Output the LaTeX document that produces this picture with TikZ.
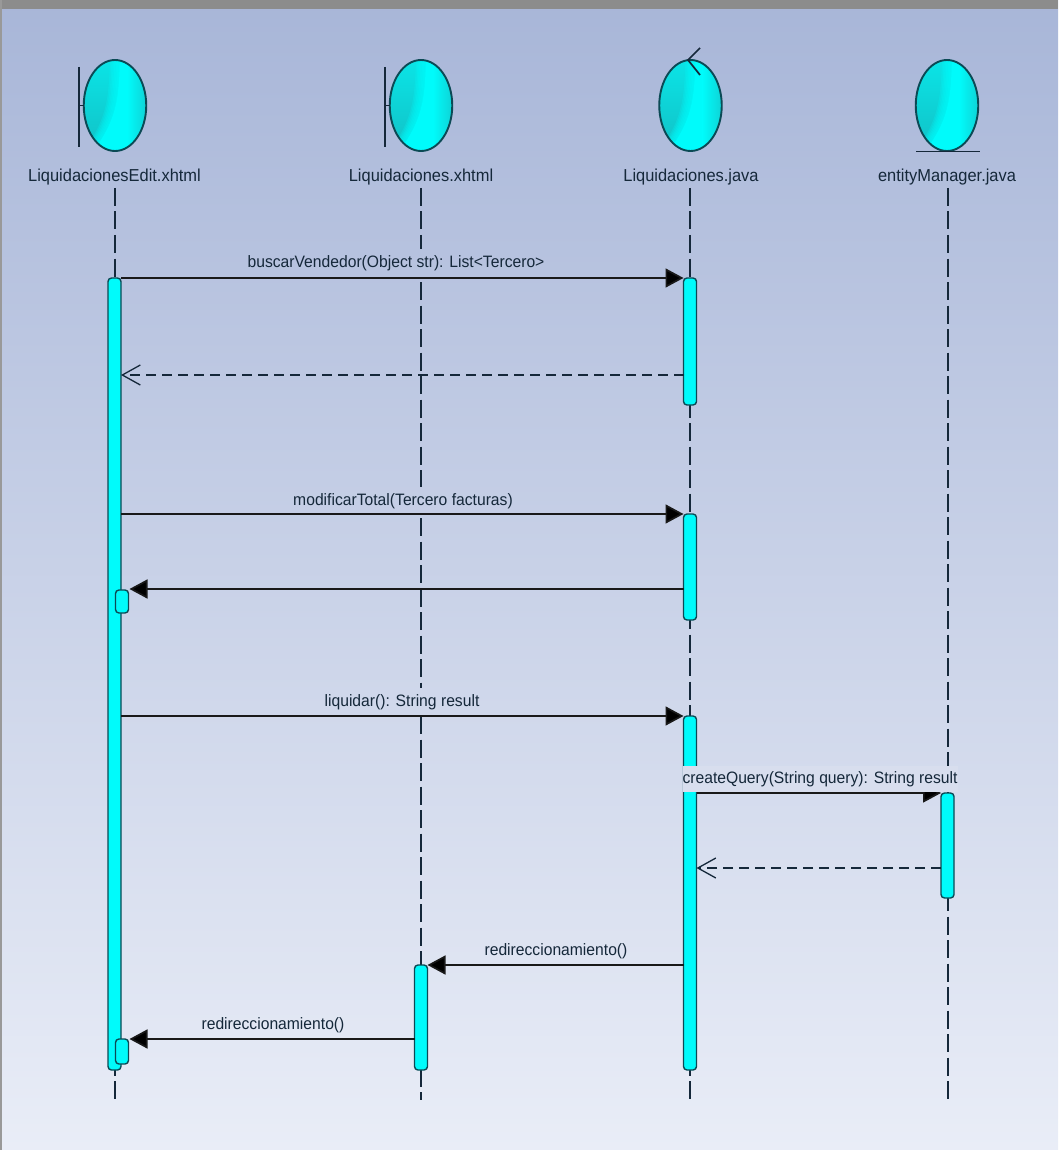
\documentclass[tikz,border=0pt]{standalone}
\usepackage{fontspec}
\setmainfont{Liberation Sans}[FakeStretch=0.95]
\usetikzlibrary{arrows.meta,shapes.geometric,calc}
\definecolor{inkdark}{HTML}{15283A}
\definecolor{barline}{HTML}{0B4A55}
\definecolor{cyanfill}{HTML}{00FBFB}
\definecolor{tealdark}{HTML}{12BFC4}
\definecolor{tealright}{HTML}{10CFD2}
\definecolor{tealmid}{HTML}{0AE6E8}
\definecolor{bgtop}{HTML}{A8B6D8}
\definecolor{bgbottom}{HTML}{E9EDF7}
\definecolor{labelbg}{HTML}{D8DEEE}
\newcommand{\hp}[2]{($(path picture bounding box.center)+(#1,#2)$)}
\tikzset{
  lifehead/.style={ellipse,draw=barline,line width=1.9pt,minimum width=62.5pt,minimum height=91pt,inner sep=0pt,outer sep=0pt,
    path picture={
      \shade[top color=tealmid,bottom color=tealdark] \hp{-33}{-50} rectangle \hp{14}{50};
      \foreach \off in {10,8.5,7,5.5,4,2.5,1}{
        \fill[cyanfill,opacity=0.22]
          \hp{5-\off}{-50} .. controls \hp{4-\off}{-5} and \hp{2-\off}{15} .. \hp{-25-\off}{50}
          -- \hp{14}{50} -- \hp{14}{-50} -- cycle;
      }
      \fill[cyanfill]
          \hp{5}{-50} .. controls \hp{4}{-5} and \hp{2}{15} .. \hp{-25}{50}
          -- \hp{14}{50} -- \hp{14}{-50} -- cycle;
      \shade[left color=cyanfill,right color=tealright] \hp{12}{-50} rectangle \hp{33}{50};
    }},
  headname/.style={text=inkdark,font=\fontsize{17.3}{19}\selectfont,inner sep=0pt,outer sep=0pt,anchor=center},
  msglabel/.style={text=inkdark,font=\fontsize{16.5}{19}\selectfont,inner sep=0pt,outer sep=0pt,anchor=center,minimum height=28pt},
  lifeline/.style={draw=inkdark,line width=1.3pt,dash pattern=on 18pt off 5.5pt},
  bar/.style={draw=barline,fill=cyanfill,line width=1.4pt,rounded corners=3.5pt,minimum width=13pt,inner sep=0pt,outer sep=0pt,anchor=north},
  callmsg/.style={draw=black!90,line width=1.7pt,-{Triangle[length=18pt,width=19pt,fill=black]}},
  retmsg/.style={draw=inkdark,line width=1.4pt,dash pattern=on 10pt off 6pt,-{Straight Barb[length=18pt,width=20pt,line width=1.3pt]}},
  icon/.style={draw=inkdark,line width=1.7pt}
}
\begin{document}
\begin{tikzpicture}[x=1pt,y=-1pt]
\useasboundingbox (0,0) rectangle (1058,1150);
% window background
\shade[top color=bgtop,bottom color=bgbottom] (0,0) rectangle (1058,1150);
\fill[color=black!45] (0,0) rectangle (1058,9);
\fill[color=black!40] (0,0) rectangle (2,1150);

% column coordinates
\coordinate (endA) at (115,1100);
\coordinate (endB) at (421,1100);
\coordinate (endC) at (690,1100);
\coordinate (endD) at (948,1100);

% stereotype decorations
\coordinate (bndA) at (79,67);
\coordinate (bndAb) at (79,147);
\coordinate (bndB) at (385,67);
\coordinate (bndBb) at (385,147);
\draw[icon] (bndA) -- (bndAb);
\draw[icon] (bndB) -- (bndBb);

% heads
\node[lifehead] (headA) at (115,105.5) {};
\node[lifehead] (headB) at (421,105.5) {};
\node[lifehead] (headC) at (690.5,105.5) {};
\node[lifehead] (headD) at (947,105.5) {};

\draw[icon] (headA.west) -- (bndA |- headA.west);
\draw[icon] (headB.west) -- (bndB |- headB.west);
\coordinate (ctlTip) at (688,60);
\coordinate (ctlUp) at (700,48);
\coordinate (ctlDown) at (700,75);
\draw[icon] (ctlUp) -- (ctlTip) -- (ctlDown);
\coordinate (entL) at (916,151.5);
\coordinate (entR) at (980,151.5);
\draw[icon] (entL) -- (entR);

% names
\node[headname] (nameA) at (114.5,177.5) {LiquidacionesEdit.xhtml};
\node[headname] (nameB) at (421,177.5) {Liquidaciones.xhtml};
\node[headname] (nameC) at (691,177.5) {Liquidaciones.java};
\node[headname] (nameD) at (947,177.5) {entityManager.java};

% labels that interrupt the lifeline
\node[msglabel] (lblBuscar) at (396,263) {buscarVendedor(Object str): List<Tercero>};
\node[msglabel] (lblModificar) at (403,501) {modificarTotal(Tercero facturas)};
\node[msglabel] (lblLiquidar) at (402,702) {liquidar(): String result};

% lifelines
\draw[lifeline] (endA |- 0,188) -- (endA);
\draw[lifeline] (endB |- 0,188) -- (endB |- lblBuscar.north);
\draw[lifeline] (endB |- 0,282) -- (endB |- lblModificar.north);
\draw[lifeline] (endB |- 0,518) -- (endB |- lblLiquidar.north);
\draw[lifeline] (endB |- 0,716) -- (endB);
\draw[lifeline] (endC |- 0,188) -- (endC);
\draw[lifeline] (endD |- 0,188) -- (endD);

% activation bars
\node[bar,minimum height=792pt] (barA) at (114.5,278) {};
\node[bar,minimum height=23pt] (barA2) at (122,590) {};
\node[bar,minimum height=25pt] (barA3) at (122,1039) {};
\node[bar,minimum height=127pt] (barC1) at (690,278) {};
\node[bar,minimum height=106pt] (barC2) at (690,514) {};
\node[bar,minimum height=354pt] (barC3) at (690,716) {};
\node[bar,minimum height=105pt] (barD) at (947.5,793) {};
\node[bar,minimum height=105pt] (barB) at (421,965) {};

% messages
\draw[callmsg] (barA.north east) -- (barC1.north west);
\coordinate (ret1) at (0,375);
\draw[retmsg] (barC1.west |- ret1) -- (barA.east |- ret1);
\draw[callmsg] (barA.east |- barC2.north) -- (barC2.north west);
\coordinate (ret2) at (0,589);
\draw[callmsg] (barC2.west |- ret2) -- ($(barA2.east |- ret2)+(1,0)$);
\draw[callmsg] (barA.east |- barC3.north) -- (barC3.north west);
\draw[callmsg] (barC3.east |- barD.north) -- (barD.north west);
\coordinate (ret3) at (0,868);
\draw[retmsg] (barD.west |- ret3) -- (barC3.east |- ret3);
\draw[callmsg] (barC3.west |- barB.north) -- (barB.north east);
\draw[callmsg] (barB.west |- barA3.north) -- ($(barA3.north east)+(1,0)$);

% remaining labels
\node[msglabel,fill=labelbg,minimum height=26pt] (lblQuery) at (820,779) {createQuery(String query): String result};
\node[msglabel] (lblRedirA) at (556,951) {redireccionamiento()};
\node[msglabel] (lblRedirB) at (273,1025) {redireccionamiento()};
\end{tikzpicture}
\end{document}
